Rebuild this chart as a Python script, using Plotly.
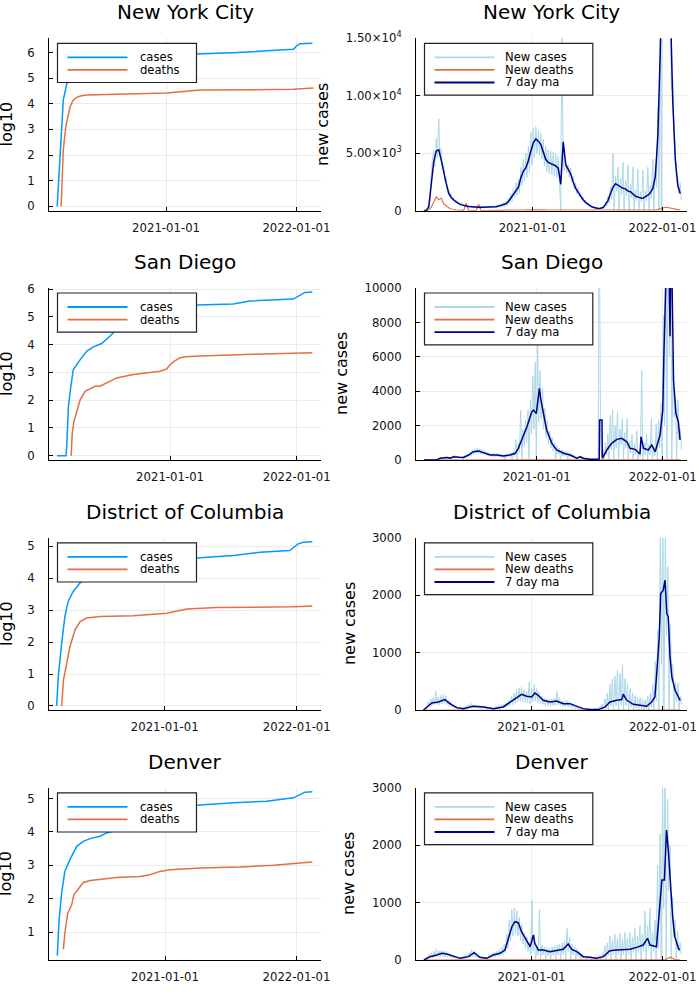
import pandas as pd
import plotly.graph_objects as go

# ---------------------------------------------------------------- data
CITIES = ["New York City", "San Diego", "District of Columbia", "Denver"]
BASE = "2021-01-01"  # day offsets below are relative to this date

# cumulative counts (log10), day offsets + values
nyc_cases_days = [-305, -297, -288, -278, -250, -200, -100, -30, 0, 50, 86, 188, 352, 357, 366, 375, 410]
nyc_cases_log = [0, 2.19, 4.14, 4.79, 5.1, 5.33, 5.4, 5.55, 5.65, 5.8, 5.94, 5.99, 6.09, 6.12, 6.26, 6.34, 6.36]
nyc_deaths_days = [-294, -288, -281, -269, -260, -250, -240, -222, 2, 95, 357, 413]
nyc_deaths_log = [0, 2.19, 3.1, 3.88, 4.15, 4.25, 4.3, 4.34, 4.42, 4.53, 4.56, 4.61]

sd_cases_days = [-326, -300, -298, -293, -286, -279, -259, -240, -221, -197, -173, -158, -120, -60, 0, 30, 60, 77, 182, 230, 355, 374, 389, 410]
sd_cases_log = [0, 0, 0.33, 1.77, 2.5, 3.1, 3.46, 3.77, 3.92, 4.04, 4.31, 4.49, 4.65, 4.85, 5.15, 5.35, 5.41, 5.43, 5.46, 5.57, 5.64, 5.78, 5.88, 5.90]
sd_deaths_days = [-285, -282, -277, -269, -259, -245, -216, -202, -182, -154, -106, -29, -10, 0, 15, 29, 45, 86, 240, 410]
sd_deaths_log = [0, 0.81, 1.23, 1.59, 2.02, 2.32, 2.5, 2.5, 2.62, 2.8, 2.92, 3.04, 3.12, 3.28, 3.42, 3.53, 3.56, 3.59, 3.65, 3.71]

dc_cases_days = [-299, -294, -285, -276, -267, -253, -234, -220, -150, -60, 0, 60, 88, 190, 264, 346, 355, 362, 369, 383, 408]
dc_cases_log = [0, 0.96, 1.96, 2.8, 3.27, 3.58, 3.85, 3.95, 4.07, 4.22, 4.45, 4.6, 4.63, 4.71, 4.81, 4.86, 4.95, 5.02, 5.07, 5.12, 5.14]
dc_deaths_days = [-285, -280, -271, -262, -248, -234, -216, -179, -87, -41, 6, 61, 144, 356, 408]
dc_deaths_log = [0, 0.81, 1.33, 1.86, 2.38, 2.64, 2.75, 2.8, 2.82, 2.85, 2.9, 3.03, 3.08, 3.10, 3.13]

den_cases_days = [-299, -294, -287, -278, -264, -245, -227, -208, -180, -162, -139, -80, 0, 60, 88, 190, 282, 356, 375, 389, 409]
den_cases_log = [0.3, 1.37, 2.17, 2.82, 3.17, 3.57, 3.72, 3.8, 3.87, 3.97, 4.05, 4.3, 4.6, 4.75, 4.8, 4.87, 4.92, 5.02, 5.12, 5.19, 5.2]
den_deaths_days = [-282, -278, -270, -259, -253, -236, -227, -208, -180, -134, -69, -42, -14, 14, 97, 208, 301, 356, 409]
den_deaths_log = [0.49, 0.97, 1.57, 1.82, 2.12, 2.37, 2.49, 2.55, 2.59, 2.64, 2.67, 2.72, 2.82, 2.87, 2.92, 2.95, 3.0, 3.05, 3.1]

# daily new cases sampled twice a week (offsets 0 and 3 of each week), from series start
nyc_start = -306
nyc_new_cases = [
    0, 0, 40, 20, 600, 900, 3000, 4500, 5200, 3800, 6300, 4600, 8000, 4800, 5400, 3900, 4000, 2600, 2900, 2000,
    1900, 1300, 1500, 900, 1200, 700, 950, 600, 800, 480, 700, 420, 600, 350, 520, 310, 480, 280, 450, 250,
    420, 240, 400, 220, 390, 210, 380, 220, 390, 210, 400, 230, 410, 230, 430, 240, 440, 250, 470, 260,
    540, 300, 600, 330, 700, 380, 820, 450, 1100, 600, 1500, 800, 2000, 1100, 2400, 1350, 2800, 1500, 3800, 2200,
    4500, 2600, 5000, 2900, 5600, 3300, 6800, 4000, 7200, 4600, 7300, 5000, 7000, 4800, 6800, 4500, 6200, 3900, 5600, 3400,
    5300, 3200, 5200, 3100, 5100, 3000, 5000, 2900, 4700, 2700, 0, 16000, 4300, 3500, 4200, 3300, 4000, 2900, 3700, 2500,
    3000, 1900, 2400, 1500, 2000, 1200, 1600, 950, 1200, 700, 900, 550, 650, 400, 500, 300, 380, 230, 290, 170,
    260, 150, 290, 160, 380, 200, 750, 400, 1250, 650, 2100, 1000, 5000, 0, 3000, 1700, 3800, 0, 2800, 1400,
    4200, 0, 2600, 1300, 4000, 0, 2300, 1100, 3800, 0, 1800, 900, 3600, 0, 1600, 800, 3500, 0, 1700, 850,
    3800, 0, 2200, 1100, 4500, 0, 4000, 2000, 9000, 0, 17000, 0, 35000, 20000, 45000, 30000, 38000, 20000, 22000, 10500,
    11500, 7000, 5500, 3000, 3000, 1500, 2400, 900,
]
# weekly new deaths
nyc_new_deaths = [
    0, 5, 60, 300, 700, 1200, 950, 1100, 600, 400,
    250, 150, 90, 60, 40, 30, 25, 650, 20, 15,
    10, 10, 550, 10, 8, 8, 10, 10, 8, 10,
    10, 12, 12, 15, 18, 20, 25, 30, 40, 50,
    60, 70, 80, 90, 100, 110, 100, 90, 80, 70,
    70, 60, 60, 60, 50, 45, 40, 40, 35, 30,
    25, 20, 15, 12, 10, 8, 8, 6, 6, 6,
    8, 10, 15, 20, 25, 30, 30, 30, 30, 30,
    25, 25, 25, 20, 20, 20, 20, 20, 20, 25,
    25, 30, 40, 60, 100, 150, 250, 300, 280, 250,
    200, 150, 100, 60,
]
# weekly 7 day moving average
nyc_ma = [
    0, 30, 350, 2600, 4300, 5200, 5300, 4400, 3200, 2350,
    1510, 1150, 930, 750, 620, 530, 450, 400, 370, 340,
    320, 300, 290, 290, 290, 300, 310, 320, 330, 350,
    400, 450, 520, 600, 800, 1100, 1500, 1800, 2050, 2900,
    3450, 3750, 4350, 5200, 5900, 6250, 6050, 5750, 5050, 4450,
    4200, 4100, 4050, 3900, 3700, 2300, 6000, 4000, 3600, 3200,
    2500, 1950, 1600, 1250, 950, 720, 520, 400, 300, 220,
    200, 220, 280, 550, 900, 1500, 2050, 2350, 2200, 2050,
    1950, 1900, 1700, 1650, 1450, 1250, 1200, 1100, 1080, 1200,
    1350, 1550, 1950, 3000, 6500, 14000, 30000, 40000, 32000, 18000,
    9500, 4500, 2200, 1500,
]

sd_start = -326
sd_new_cases = [
    0, 0, 0, 0, 0, 0, 0, 0, 0, 0, 10, 0, 80, 20, 150, 60, 170, 80, 200, 100,
    180, 80, 160, 70, 250, 120, 260, 130, 230, 110, 220, 100, 210, 90, 250, 110, 340, 170, 450, 220,
    600, 300, 650, 350, 680, 360, 660, 370, 600, 330, 550, 280, 470, 230, 400, 200, 390, 190, 400, 190,
    390, 190, 370, 170, 330, 150, 320, 0, 360, 160, 380, 180, 420, 0, 500, 200, 1200, 0, 1000, 450,
    2900, 0, 1800, 800, 2300, 1000, 2900, 0, 3500, 1500, 4900, 1800, 5700, 0, 6800, 2200, 5200, 2400, 4200, 1800,
    3000, 1300, 2300, 900, 1700, 700, 1300, 500, 1000, 0, 800, 350, 700, 0, 600, 250, 550, 200, 480, 0,
    420, 180, 380, 150, 280, 100, 160, 0, 260, 100, 220, 80, 140, 40, 100, 0, 70, 20, 60, 20,
    70, 20, 80, 30, 90, 16000, 900, 300, 600, 0, 1000, 300, 1500, 0, 2600, 600, 2900, 0, 2000, 700,
    2800, 0, 1800, 900, 2400, 0, 1600, 700, 2400, 0, 1100, 400, 1500, 0, 900, 300, 1700, 0, 600, 200,
    5200, 0, 1000, 300, 1500, 0, 900, 300, 2400, 0, 800, 250, 2100, 0, 2300, 700, 3300, 0, 8400, 2000,
    16000, 0, 18000, 6000, 15000, 0, 6300, 2500, 3600, 0, 3500, 1200, 1800, 600,
]
# new deaths every two weeks
sd_new_deaths = [
    0, 0, 0, 0, 1, 3, 5, 5, 4, 3,
    3, 4, 5, 6, 7, 8, 8, 6, 5, 4,
    3, 3, 5, 8, 12, 20, 30, 35, 30, 20,
    12, 8, 5, 4, 3, 2, 2, 2, 2, 1,
    1, 2, 3, 4, 5, 5, 4, 4, 3, 5,
    8, 10, 8, 6,
]
sd_ma_days = [-326, -290, -279, -270, -260, -250, -240, -225, -212, -197, -183, -168, -154, -134, -115,
              -96, -77, -62, -53, -43, -28, -14, -9, -1, 5, 8, 12, 20, 29, 44, 58, 78, 97, 116, 126,
              135, 155, 170, 181, 182, 189, 190, 203, 217, 232, 246, 261, 270, 285, 299, 302, 309, 323, 333, 343,
              357, 365, 368, 371, 376, 382, 386, 388, 392, 396, 403, 410, 415]
sd_ma = [0, 0, 100, 120, 150, 110, 190, 160, 150, 290, 480, 520, 425, 290, 290,
         230, 290, 390, 680, 1160, 1930, 2800, 2900, 2700, 3870, 4160, 3520, 2700, 1740, 970, 580, 390, 290, 100, 190,
         100, 40, 50, 60, 2320, 2320, 100, 580, 970, 1200, 1260, 1060, 680, 620, 350, 1350, 680, 580, 870, 480,
         1450, 2900, 6000, 11000, 12000, 12500, 7200, 12000, 10000, 4640, 2700, 2220, 1160]

dc_start = -300
dc_new_cases = [
    0, 0, 40, 10, 150, 60, 200, 80, 220, 90, 330, 100, 230, 90, 260, 110, 280, 120, 250, 100,
    180, 70, 150, 50, 100, 30, 80, 20, 60, 15, 50, 15, 60, 15, 80, 30, 110, 40, 120, 40,
    100, 40, 90, 30, 90, 30, 80, 30, 80, 30, 70, 20, 60, 20, 50, 15, 50, 15, 70, 25,
    90, 30, 100, 40, 110, 40, 140, 60, 180, 80, 250, 100, 300, 120, 360, 150, 390, 160, 400, 150,
    350, 140, 330, 130, 490, 120, 380, 150, 450, 160, 380, 140, 320, 120, 250, 100, 220, 80, 200, 80,
    190, 70, 200, 80, 210, 80, 330, 90, 220, 80, 170, 60, 160, 60, 170, 60, 150, 50, 120, 40,
    90, 30, 70, 20, 50, 10, 40, 10, 30, 5, 20, 5, 20, 5, 20, 5, 30, 5, 40, 10,
    70, 20, 110, 0, 200, 40, 300, 0, 450, 70, 550, 0, 600, 80, 700, 0, 650, 90, 800, 0,
    550, 80, 450, 0, 380, 50, 300, 0, 260, 40, 230, 0, 220, 30, 200, 0, 180, 30, 250, 0,
    300, 50, 450, 0, 850, 150, 1400, 0, 3200, 800, 3500, 0, 3200, 1300, 2500, 0, 1500, 500, 800, 0,
    500, 150, 480, 0, 250, 100,
]
dc_new_deaths = [
    0, 1, 5, 8, 10, 8, 5, 3, 2, 1,
    1, 1, 1, 1, 1, 1, 1, 2, 2, 3,
    4, 5, 5, 4, 3, 3, 2, 2, 1, 1,
    1, 1, 1, 1, 1, 1, 1, 1, 2, 2,
    2, 2, 1, 1, 1, 2, 3, 4, 5, 4,
    3, 2,
]
dc_ma_days = [-300, -290, -276, -258, -240, -226, -207, -189, -161, -133, -105, -78, -50, -27, -13,
              1, 10, 19, 33, 52, 70, 89, 107, 126, 144, 163, 186, 205, 218, 237,
              251, 255, 265, 283, 302, 320, 334, 343, 350, 355, 359, 366, 371, 376, 380, 385, 390, 399, 413]
dc_ma = [0, 58, 128, 145, 186, 116, 46, 29, 70, 58, 29, 58, 174, 279, 244,
         232, 302, 261, 174, 145, 162, 116, 116, 70, 29, 12, 12, 58, 145, 174,
         186, 279, 174, 104, 87, 70, 145, 232, 812, 1277, 2031, 2090, 2263, 1683, 1625, 928, 580, 348, 174]

den_start = -300
den_new_cases = [
    0, 0, 40, 10, 100, 30, 130, 40, 150, 50, 200, 60, 160, 60, 170, 60, 160, 50, 150, 50,
    120, 40, 100, 30, 80, 30, 60, 15, 50, 10, 60, 15, 80, 25, 100, 30, 130, 40, 180, 60,
    160, 50, 90, 30, 70, 20, 60, 15, 50, 10, 50, 10, 90, 30, 120, 40, 140, 50, 150, 60,
    180, 70, 220, 90, 280, 120, 450, 200, 700, 320, 880, 420, 900, 450, 860, 420, 750, 350, 620, 280,
    480, 200, 400, 150, 300, 100, 1040, 150, 450, 0, 250, 80, 880, 0, 260, 90, 230, 0, 220, 80,
    200, 0, 230, 80, 250, 0, 260, 90, 280, 0, 300, 100, 330, 0, 550, 150, 400, 0, 280, 90,
    230, 0, 200, 60, 150, 0, 90, 30, 70, 0, 60, 20, 60, 0, 50, 10, 50, 0, 60, 15,
    80, 0, 120, 30, 250, 0, 300, 80, 420, 0, 350, 100, 450, 0, 380, 100, 470, 0, 370, 100,
    480, 0, 380, 100, 480, 0, 400, 120, 550, 0, 420, 130, 600, 0, 450, 150, 850, 0, 600, 200,
    900, 0, 500, 150, 700, 0, 1650, 200, 2200, 0, 3200, 900, 3500, 0, 2800, 1200, 2000, 0, 1100, 400,
    700, 0, 500, 150, 300, 100,
]
den_new_deaths = [
    0, 1, 3, 5, 6, 4, 3, 2, 1, 1,
    1, 1, 1, 1, 1, 1, 1, 1, 2, 3,
    5, 6, 6, 5, 4, 3, 2, 2, 2, 2,
    2, 1, 1, 1, 1, 1, 1, 1, 2, 2,
    2, 3, 3, 3, 3, 4, 5, 5, 4, 50,
    3, 2,
]
den_ma_days = [-300, -283, -264, -250, -236, -218, -199, -176, -160, -144, -125, -107, -88, -74, -65,
               -55, -46, -37, -28, -14, -4, 5, 9, 19, 33, 51, 70, 88, 102, 112,
               126, 144, 163, 181, 200, 218, 237, 255, 274, 293, 311, 323, 330, 348, 358,
               363, 370, 376, 381, 386, 393, 399, 409, 413]
den_ma = [0, 58, 87, 116, 104, 70, 29, 58, 128, 46, 29, 87, 116, 174, 377,
          580, 667, 650, 493, 348, 232, 435, 290, 174, 174, 145, 162, 186, 279, 186,
          145, 58, 46, 29, 58, 162, 174, 174, 186, 220, 261, 377, 261, 232, 928,
          1393, 1393, 2263, 1915, 1335, 754, 406, 203, 174]

X_TICKS = ["2021-01-01", "2022-01-01"]
LEFT_YTICKS = [[0, 1, 2, 3, 4, 5, 6], [0, 1, 2, 3, 4, 5, 6], [0, 1, 2, 3, 4, 5], [1, 2, 3, 4, 5]]
RIGHT_YTICKS = [[0, 5000, 10000, 15000], [0, 2000, 4000, 6000, 8000, 10000], [0, 1000, 2000, 3000], [0, 1000, 2000, 3000]]
RIGHT_YTEXT = [["0", "5.00×10<sup>3</sup>", "1.00×10<sup>4</sup>", "1.50×10<sup>4</sup>"],
               ["0", "2000", "4000", "6000", "8000", "10000"],
               ["0", "1000", "2000", "3000"], ["0", "1000", "2000", "3000"]]

# ---------------------------------------------------------------- helpers
base = pd.Timestamp(BASE)


def dates(days):
    return [base + pd.Timedelta(days=int(d)) for d in days]


def halfweek(start, n):
    return dates([start + 7 * (i // 2) + 3 * (i % 2) for i in range(n)])


def every(start, step, n):
    return dates([start + step * i for i in range(n)])


city = [
    dict(cd=nyc_cases_days, cv=nyc_cases_log, dd=nyc_deaths_days, dv=nyc_deaths_log,
         nc_x=halfweek(nyc_start, len(nyc_new_cases)), nc=nyc_new_cases,
         nd_x=every(nyc_start, 7, len(nyc_new_deaths)), nd=nyc_new_deaths,
         ma_x=every(nyc_start, 7, len(nyc_ma)), ma=nyc_ma),
    dict(cd=sd_cases_days, cv=sd_cases_log, dd=sd_deaths_days, dv=sd_deaths_log,
         nc_x=halfweek(sd_start, len(sd_new_cases)), nc=sd_new_cases,
         nd_x=every(sd_start, 14, len(sd_new_deaths)), nd=sd_new_deaths,
         ma_x=dates(sd_ma_days), ma=sd_ma),
    dict(cd=dc_cases_days, cv=dc_cases_log, dd=dc_deaths_days, dv=dc_deaths_log,
         nc_x=halfweek(dc_start, len(dc_new_cases)), nc=dc_new_cases,
         nd_x=every(dc_start, 14, len(dc_new_deaths)), nd=dc_new_deaths,
         ma_x=dates(dc_ma_days), ma=dc_ma),
    dict(cd=den_cases_days, cv=den_cases_log, dd=den_deaths_days, dv=den_deaths_log,
         nc_x=halfweek(den_start, len(den_new_cases)), nc=den_new_cases,
         nd_x=every(den_start, 14, len(den_new_deaths)), nd=den_new_deaths,
         ma_x=dates(den_ma_days), ma=den_ma),
]

# ---------------------------------------------------------------- layout constants (pixels)
W, H = 699, 999
COLS = [(49, 321), (416, 687)]
ROWS = [(38.3, 210.7), (288, 460), (537.8, 710.3), (787.8, 960)]
XRANGE_DAYS = [(-328, 434), (-349, 435), (-320, 432), (-322, 433)]
LEFT_YRANGE = [(-0.17, 6.55), (-0.156, 6.04), (-0.135, 5.26), (0.17, 5.32)]
RIGHT_YRANGE = [(0, 15000), (0, 10000), (0, 3000), (0, 3000)]
RIGHT_YLABEL_X = [322.5, 341, 349, 349]

FONT = "DejaVu Sans"
C_CASES, C_DEATHS = "#009AFA", "#E36F47"
C_NEW, C_MA = "#ADD8E6", "#00008B"


def px(x):
    return x / W


def py(y):
    return 1 - y / H


fig = go.Figure()
layout = dict(width=W, height=H, autosize=False, margin=dict(l=0, r=0, t=0, b=0, pad=0),
              paper_bgcolor="white", plot_bgcolor="white", showlegend=False, template="none")
shapes, annotations = [], []

axis_common = dict(showline=True, linecolor="#000000", linewidth=1, mirror=False, automargin=False,
                   ticks="inside", ticklen=4, tickcolor="#000000", tickwidth=1,
                   showgrid=True, gridcolor="#EBEBEB", gridwidth=1, zeroline=False,
                   tickfont=dict(family=FONT, size=11.7, color="#111111"))

for r in range(4):
    c = city[r]
    t, b = ROWS[r]
    xr = dates(XRANGE_DAYS[r])
    for col in range(2):
        i = 2 * r + col + 1
        xa, ya = f"x{i}", f"y{i}"
        l, rr = COLS[col]
        layout[f"xaxis{i}"] = dict(axis_common, type="date", domain=[px(l), px(rr)], anchor=ya,
                                   range=xr, tickvals=X_TICKS, ticktext=X_TICKS, ticklabelstandoff=6)
        if col == 0:
            layout[f"yaxis{i}"] = dict(axis_common, domain=[py(b), py(t)], anchor=xa,
                                       range=list(LEFT_YRANGE[r]), tickvals=LEFT_YTICKS[r],
                                       ticktext=[str(v) for v in LEFT_YTICKS[r]], ticklabelstandoff=11)
            fig.add_trace(go.Scatter(x=dates(c["cd"]), y=c["cv"], mode="lines", name="cases",
                                     line=dict(color=C_CASES, width=1.5), xaxis=xa, yaxis=ya))
            fig.add_trace(go.Scatter(x=dates(c["dd"]), y=c["dv"], mode="lines", name="deaths",
                                     line=dict(color=C_DEATHS, width=1.5), xaxis=xa, yaxis=ya))
            items = [("cases", C_CASES), ("deaths", C_DEATHS)]
            box_w, text_dx = 139, 88.7
        else:
            layout[f"yaxis{i}"] = dict(axis_common, domain=[py(b), py(t)], anchor=xa,
                                       range=list(RIGHT_YRANGE[r]), tickvals=RIGHT_YTICKS[r],
                                       ticktext=RIGHT_YTEXT[r], ticklabelstandoff=11)
            fig.add_trace(go.Scatter(x=c["nc_x"], y=c["nc"], mode="lines", name="New cases",
                                     line=dict(color=C_NEW, width=1), xaxis=xa, yaxis=ya))
            fig.add_trace(go.Scatter(x=c["nd_x"], y=c["nd"], mode="lines", name="New deaths",
                                     line=dict(color=C_DEATHS, width=1.2), xaxis=xa, yaxis=ya))
            fig.add_trace(go.Scatter(x=c["ma_x"], y=c["ma"], mode="lines", name="7 day ma",
                                     line=dict(color=C_MA, width=1.5), xaxis=xa, yaxis=ya))
            items = [("New cases", C_NEW), ("New deaths", C_DEATHS), ("7 day ma", C_MA)]
            box_w, text_dx = 168.3, 87.3

        # title
        annotations.append(dict(text=CITIES[r], x=px((l + rr) / 2), y=py(t - 26), xref="paper", yref="paper",
                                xanchor="center", yanchor="middle", showarrow=False,
                                font=dict(family=FONT, size=20, color="#000000")))
        # axis label
        if col == 0:
            annotations.append(dict(text="log10", x=px(6), y=py((t + b) / 2), xref="paper", yref="paper",
                                    xanchor="center", yanchor="middle", textangle=-90, showarrow=False,
                                    font=dict(family=FONT, size=16, color="#000000")))
        else:
            annotations.append(dict(text="new cases", x=px(RIGHT_YLABEL_X[r]), y=py((t + b) / 2),
                                    xref="paper", yref="paper", xanchor="center", yanchor="middle",
                                    textangle=-90, showarrow=False,
                                    font=dict(family=FONT, size=16, color="#000000")))
        # legend box
        bx0, by0 = l + 8.5, t + 5
        bh = 14 + 12.6 * len(items)
        shapes.append(dict(type="rect", xref="paper", yref="paper", x0=px(bx0), x1=px(bx0 + box_w),
                           y0=py(by0 + bh), y1=py(by0), fillcolor="white",
                           line=dict(color="#222222", width=1.2), layer="above"))
        for j, (name, colr) in enumerate(items):
            yy = t + 19 + 12.6 * j
            shapes.append(dict(type="line", xref="paper", yref="paper", x0=px(l + 18.5), x1=px(l + 78.5),
                               y0=py(yy), y1=py(yy), line=dict(color=colr, width=1.8), layer="above"))
            annotations.append(dict(text=name, x=px(l + text_dx), y=py(yy), xref="paper", yref="paper",
                                    xanchor="left", yanchor="middle", showarrow=False,
                                    font=dict(family=FONT, size=11.6, color="#000000")))

layout["shapes"] = shapes
layout["annotations"] = annotations
fig.update_layout(**layout)
fig.write_html("out.html")
